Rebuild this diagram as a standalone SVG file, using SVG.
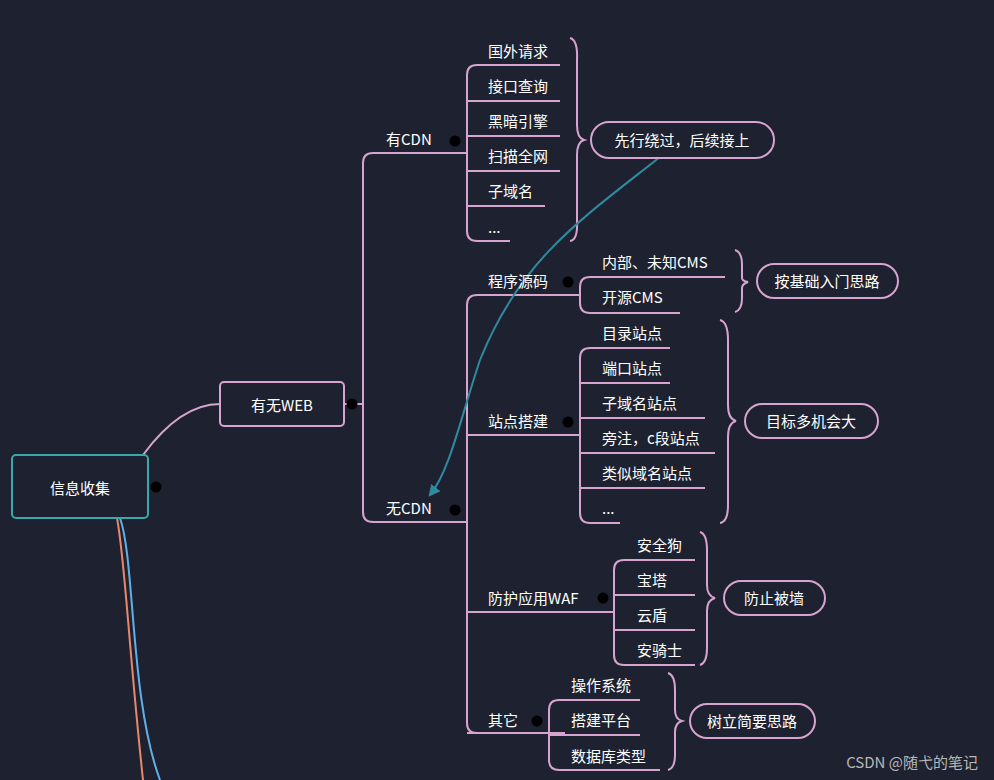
<svg xmlns="http://www.w3.org/2000/svg" width="994" height="780" viewBox="0 0 994 780">
<defs>
<style>
text{font-family:"Microsoft YaHei","Noto Sans CJK SC",sans-serif;fill:#fff;font-size:15px}
.l{fill:none;stroke:#d7a3cf;stroke-width:2}
.c{fill:#1e2230;stroke:#d7a3cf;stroke-width:2}
.col circle{fill:#c9e89a;stroke:#4a9a20;stroke-width:1.5}
.col line{stroke:#2f6a10;stroke-width:2}
</style>
<marker id="ah" viewBox="0 0 10 10" refX="8" refY="5" markerWidth="6" markerHeight="6" orient="auto"><path d="M0,0L10,5L0,10z" fill="#2f8aa0"/></marker>
<g id="cb"><circle r="5.5"/><line x1="-3" y1="0" x2="3" y2="0"/></g>
</defs>
<rect width="994" height="780" fill="#1e2230"/>
<g id="connectors">
<path d="M117,518 C125,560 128,640 143,780" fill="none" stroke="#e8876a" stroke-width="2"/>
<path d="M120,518 C135,560 130,700 160,780" fill="none" stroke="#60b0e8" stroke-width="2"/>
<path class="l" d="M143,455 C165,425 190,404 220,404"/>
<path class="l" d="M345,404H363M467,153H373Q363,153 363,163V512Q363,522 373,522H467"/>
<path class="l" d="M560,65H477Q467,65 467,75V231Q467,241 477,241H510M467,101H560M467,136H560M467,171H560M467,206H545"/>
<path class="l" d="M570,38Q578,40 577,60V125Q577,138 584,140Q577,142 577,155V221Q578,240 570,241"/>
<path class="l" d="M467,733H477M580,295H477Q467,295 467,305V723Q467,733 477,733H565M467,435H580M467,612H614"/>
<path class="l" d="M725,277H590Q580,277 580,287V303Q580,313 590,313H680"/>
<path class="l" d="M735,250Q742,252 742,265V278Q742,281 748,282Q742,284 742,288V298Q742,310 735,312"/>
<path class="l" d="M670,348H590Q580,348 580,358V513Q580,523 590,523H620M580,383H670M580,418H705M580,453H715M580,488H705"/>
<path class="l" d="M720,320Q728,322 728,340V405Q728,419 736,421Q728,423 728,437V505Q728,522 720,523"/>
<path class="l" d="M695,560H624Q614,560 614,570V655Q614,665 624,665H695M614,595H695M614,630H695"/>
<path class="l" d="M700,532Q707,534 707,550V585Q707,596 715,598Q707,600 707,611V648Q707,663 700,665"/>
<path class="l" d="M640,700H559Q549,700 549,710V760Q549,770 559,770H660M549,735H640"/>
<path class="l" d="M668,673Q675,675 675,690V710Q675,719 682,721Q675,723 675,732V755Q675,768 668,770"/>
<path d="M660,157 C580,220 520,260 480,360 C460,420 450,470 430,495" fill="none" stroke="#2f8aa0" stroke-width="2" marker-end="url(#ah)"/>
</g>
<g id="root"><rect x="12" y="455" width="136" height="63" rx="4" fill="#1e2230" stroke="#3aa8a8" stroke-width="2"/><text x="80" y="494" text-anchor="middle" font-size="20">信息收集</text></g>
<g id="web"><rect x="220" y="382" width="124" height="44" rx="4" class="c"/><text x="282" y="411" text-anchor="middle" font-size="17">有无WEB</text></g>
<g id="cdn1"><text x="386" y="145">有CDN</text></g>
<g id="cdn0"><text x="386" y="514">无CDN</text></g>
<g id="c1"><text x="488" y="57">国外请求</text></g>
<g id="c2"><text x="488" y="92">接口查询</text></g>
<g id="c3"><text x="488" y="127">黑暗引擎</text></g>
<g id="c4"><text x="488" y="162">扫描全网</text></g>
<g id="c5"><text x="488" y="197">子域名</text></g>
<g id="c6"><text x="488" y="233">...</text></g>
<g id="n1"><text x="488" y="287">程序源码</text></g>
<g id="n2"><text x="488" y="427">站点搭建</text></g>
<g id="n3"><text x="488" y="604">防护应用WAF</text></g>
<g id="n4"><text x="488" y="726">其它</text></g>
<g id="p1"><text x="602" y="268">内部、未知CMS</text></g>
<g id="p2"><text x="602" y="303">开源CMS</text></g>
<g id="s1"><text x="602" y="339">目录站点</text></g>
<g id="s2"><text x="602" y="374">端口站点</text></g>
<g id="s3"><text x="602" y="409">子域名站点</text></g>
<g id="s4"><text x="602" y="444">旁注，c段站点</text></g>
<g id="s5"><text x="602" y="479">类似域名站点</text></g>
<g id="s6"><text x="602" y="514">...</text></g>
<g id="w1"><text x="637" y="551">安全狗</text></g>
<g id="w2"><text x="637" y="586">宝塔</text></g>
<g id="w3"><text x="637" y="621">云盾</text></g>
<g id="w4"><text x="637" y="656">安骑士</text></g>
<g id="o1"><text x="571" y="691">操作系统</text></g>
<g id="o2"><text x="571" y="726">搭建平台</text></g>
<g id="o3"><text x="571" y="762">数据库类型</text></g>
<g id="k1"><rect x="591" y="122" width="183" height="36" rx="18" class="c"/><text x="682" y="146" text-anchor="middle" font-size="16">先行绕过，后续接上</text></g>
<g id="k2"><rect x="757" y="264" width="141" height="34" rx="17" class="c"/><text x="827" y="287" text-anchor="middle">按基础入门思路</text></g>
<g id="k3"><rect x="745" y="404" width="133" height="34" rx="17" class="c"/><text x="811" y="427" text-anchor="middle" font-size="16">目标多机会大</text></g>
<g id="k4"><rect x="724" y="581" width="101" height="34" rx="17" class="c"/><text x="774" y="604" text-anchor="middle" font-size="16">防止被墙</text></g>
<g id="k5"><rect x="690" y="704" width="125" height="34" rx="17" class="c"/><text x="752" y="727" text-anchor="middle">树立简要思路</text></g>
<g class="col">
<use href="#cb" x="156" y="487"/><use href="#cb" x="352" y="404"/><use href="#cb" x="455" y="141"/><use href="#cb" x="455" y="510"/><use href="#cb" x="568" y="282"/><use href="#cb" x="568" y="422"/><use href="#cb" x="603" y="598"/><use href="#cb" x="537" y="721"/>
</g>
<text x="978" y="768" text-anchor="end" font-size="17" style="fill:#b8b8b8">CSDN @随弋的笔记</text>
</svg>
